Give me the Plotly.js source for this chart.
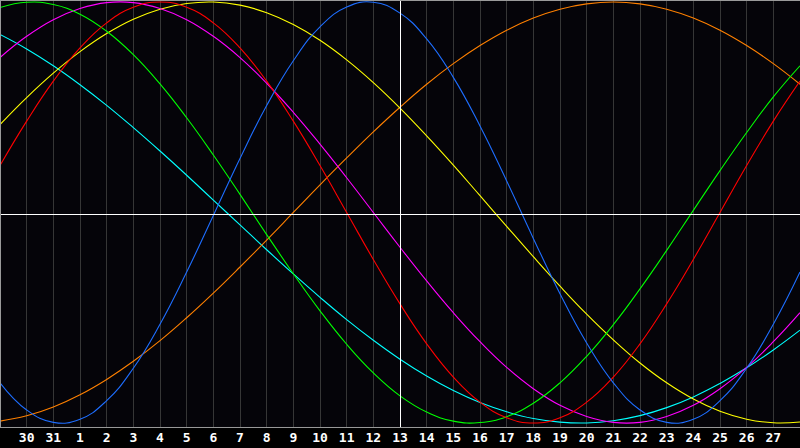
<!DOCTYPE html>
<html>
<head>
<meta charset="utf-8">
<script src="https://cdn.plot.ly/plotly-3.0.1.min.js"></script>
<style>
html,body{margin:0;padding:0;background:#000;}
#chart{width:800px;height:448px;}
</style>
</head>
<body>
<div id="chart"></div>
<script>
const dayIndex = [0,1,2,3,4,5,6,7,8,9,10,11,12,13,14,15,16,17,18,19,20,21,22,23,24,25,26,27,28,29,30];
const tickPositions = [1,2,3,4,5,6,7,8,9,10,11,12,13,14,15,16,17,18,19,20,21,22,23,24,25,26,27,28,29];
const tickLabels = ["30","31","1","2","3","4","5","6","7","8","9","10","11","12","13","14","15","16","17","18","19","20","21","22","23","24","25","26","27"];
const todayIndex = 15;

const physical = [-0.809,-0.938,-0.997,-0.982,-0.894,-0.740,-0.531,-0.283,-0.014,0.257,0.508,0.721,0.882,0.976,0.999,0.947,0.825,0.642,0.411,0.150,-0.123,-0.386,-0.620,-0.809,-0.938,-0.997,-0.982,-0.894,-0.740,-0.531,-0.283];
const emotional = [0.223,0.434,0.624,0.782,0.901,0.975,1.000,0.975,0.901,0.782,0.624,0.434,0.223,0.000,-0.223,-0.434,-0.624,-0.782,-0.901,-0.975,-1.000,-0.975,-0.901,-0.782,-0.624,-0.434,-0.223,0.000,0.223,0.434,0.624];
const intellectual = [0.974,0.999,0.988,0.942,0.861,0.750,0.611,0.450,0.273,0.086,-0.105,-0.291,-0.467,-0.626,-0.762,-0.871,-0.948,-0.991,-0.998,-0.970,-0.906,-0.809,-0.683,-0.533,-0.363,-0.180,0.010,0.199,0.380,0.549,0.697];
const intuitive = [0.736,0.837,0.916,0.969,0.997,0.997,0.969,0.916,0.837,0.736,0.614,0.476,0.325,0.165,0.000,-0.165,-0.325,-0.476,-0.614,-0.736,-0.837,-0.916,-0.969,-0.997,-0.997,-0.969,-0.916,-0.837,-0.736,-0.614,-0.476];
const aesthetic = [0.418,0.546,0.662,0.764,0.850,0.918,0.966,0.993,1.000,0.985,0.949,0.893,0.818,0.725,0.617,0.496,0.364,0.225,0.080,-0.066,-0.210,-0.350,-0.483,-0.605,-0.715,-0.809,-0.886,-0.944,-0.982,-0.999,-0.995];
const awareness = [-0.991,-0.966,-0.924,-0.866,-0.793,-0.707,-0.609,-0.500,-0.383,-0.259,-0.131,0.000,0.131,0.259,0.383,0.500,0.609,0.707,0.793,0.866,0.924,0.966,0.991,1.000,0.991,0.966,0.924,0.866,0.793,0.707,0.609];
const spiritual = [0.846,0.777,0.697,0.607,0.509,0.403,0.292,0.177,0.059,-0.059,-0.177,-0.292,-0.403,-0.509,-0.607,-0.697,-0.777,-0.846,-0.903,-0.947,-0.979,-0.996,-1.000,-0.989,-0.965,-0.927,-0.876,-0.812,-0.738,-0.653,-0.559];

const seriesList = [
  {name:"Spiritual", y:spiritual, color:"#00ffff"},
  {name:"Awareness", y:awareness, color:"#ff8000"},
  {name:"Aesthetic", y:aesthetic, color:"#ffff00"},
  {name:"Intuitive", y:intuitive, color:"#ff00ff"},
  {name:"Intellectual", y:intellectual, color:"#00ff00"},
  {name:"Emotional", y:emotional, color:"#ff0000"},
  {name:"Physical", y:physical, color:"#1e6eff"}
];

const traces = seriesList.map(s => ({
  type:"scatter", mode:"lines", name:s.name, x:dayIndex, y:s.y,
  line:{color:s.color, width:1.1, shape:"spline", smoothing:1.3},
  hoverinfo:"skip"
}));

const layout = {
  width:800, height:448,
  margin:{l:0, r:0, t:0, b:20, pad:0},
  paper_bgcolor:"#000000",
  plot_bgcolor:"#050409",
  showlegend:false,
  xaxis:{
    range:[0,30], fixedrange:true,
    tickmode:"array", tickvals:tickPositions, ticktext:tickLabels,
    showgrid:true, gridcolor:"#363636", gridwidth:1,
    zeroline:false, showline:false, ticks:"",
    tickfont:{family:"DejaVu Sans Mono", size:13, color:"#ffffff", weight:"bold"}
  },
  yaxis:{
    range:[-1.0238, 1.0095], fixedrange:true,
    showgrid:false, zeroline:false, showticklabels:false, ticks:"", showline:false
  },
  shapes:[
    {type:"line", xref:"paper", yref:"paper", x0:0, x1:1, y0:0.49883, y1:0.49883, line:{color:"#ffffff", width:1}},
    {type:"line", xref:"x", yref:"paper", x0:todayIndex + 0.01875, x1:todayIndex + 0.01875, y0:0, y1:1, line:{color:"#ffffff", width:1}},
    {type:"line", xref:"paper", yref:"paper", x0:0, x1:1, y0:0.0012, y1:0.0012, line:{color:"#9a9a9a", width:1}},
    {type:"line", xref:"paper", yref:"paper", x0:0, x1:1, y0:0.9988, y1:0.9988, line:{color:"#9a9a9a", width:1}},
    {type:"line", xref:"paper", yref:"paper", x0:0.000625, x1:0.000625, y0:0, y1:1, line:{color:"#9a9a9a", width:1}}
  ]
};

Plotly.newPlot("chart", traces, layout, {staticPlot:true, displayModeBar:false});
</script>
</body>
</html>
